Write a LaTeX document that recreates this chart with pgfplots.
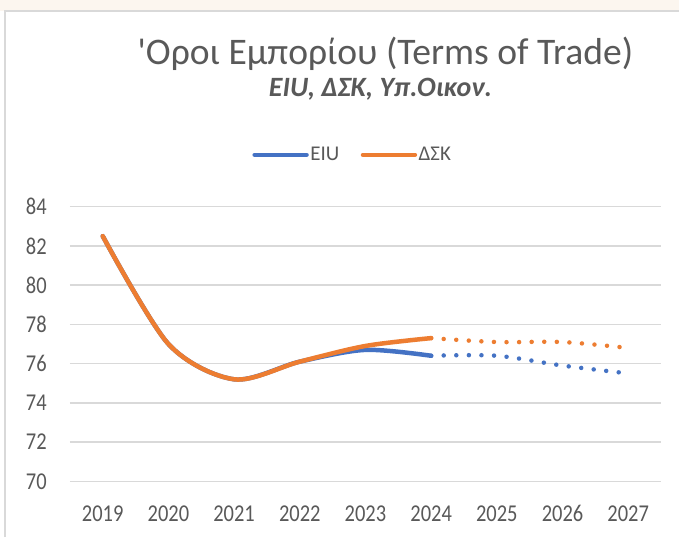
\documentclass[border=0pt]{standalone}
\usepackage{fontspec}
\setmainfont{Carlito}
\newfontfamily\titlefont{Carlito}[Ligatures=TeXOff]
\usepackage{pgfplots}
\pgfplotsset{compat=1.18}
\definecolor{eiu}{HTML}{4472C4}
\definecolor{dsk}{HTML}{ED7D31}
\definecolor{txt}{HTML}{595959}
\definecolor{gridc}{HTML}{D9D9D9}
\definecolor{beige}{HTML}{FCF6EF}
\begin{document}
\begin{tikzpicture}[x=1pt,y=1pt]
\fill[white] (0,0) rectangle (680,538);
\fill[beige] (0,526.5) rectangle (680,538);
\draw[gridc, line width=2pt] (5,0) -- (5,526.5) -- (680,526.5);
\node[anchor=base, text=txt, inner sep=0pt, font=\titlefont\fontsize{37.6}{40}\selectfont] at (386,473) {'Οροι Εμπορίου (Terms of Trade)};
\node[anchor=base, text=txt, inner sep=0pt, font=\fontsize{28}{30}\selectfont\bfseries\itshape] at (381,441) {EIU, ΔΣΚ, Υπ.Οικον.};
\begin{axis}[
  at={(70pt,56pt)}, anchor=south west,
  scale only axis, width=592pt, height=275pt,
  xmin=-0.5, xmax=8.5, ymin=70, ymax=84,
  ytick={70,72,...,84},
  xtick={0,...,8},
  xticklabel={\pgfmathtruncatemacro\yr{2019+\tick}\scalebox{1}[1.18]{\yr}},
  yticklabel={\scalebox{1}[1.18]{\pgfmathprintnumber{\tick}}},
  /pgf/number format/assume math mode=true,
  axis line style={draw=none},
  major tick length=0pt,
  tick style={draw=none},
  ymajorgrids,
  grid style={gridc, line width=1.5pt},
  ticklabel style={text=txt, font=\fontsize{20.5}{22}\selectfont, inner sep=0pt},
  yticklabel style={anchor=east, xshift=-23pt},
  xticklabel style={anchor=north, yshift=-24pt},
  clip=false,
  legend style={draw=none, fill=none, at={(0.478,1.189)}, anchor=center,
    legend columns=-1,
    /tikz/every even column/.append style={column sep=20pt},
    nodes={inner sep=1.5pt, text=txt, font=\fontsize{21}{23}\selectfont}},
  legend image code/.code={\draw[#1, line cap=round] (0pt,0pt) -- (52pt,0pt);},
]
\addplot[eiu, line width=4.5pt, smooth, line cap=round] coordinates {(0,82.5)(1,77.0)(2,75.2)(3,76.1)(4,76.7)(5,76.4)};
\addlegendentry{EIU}
\addplot[dsk, line width=4.5pt, smooth, line cap=round] coordinates {(0,82.5)(1,77.0)(2,75.2)(3,76.1)(4,76.9)(5,77.3)};
\addlegendentry{ΔΣΚ}
\addplot[eiu, line width=4.5pt, smooth, line cap=round, dash pattern=on 0pt off 12.6pt, forget plot] coordinates {(5,76.4)(6,76.4)(7,75.9)(8,75.5)};
\addplot[dsk, line width=4.5pt, smooth, line cap=round, dash pattern=on 0pt off 12.6pt, forget plot] coordinates {(5,77.3)(6,77.1)(7,77.1)(8,76.8)};
\end{axis}
\end{tikzpicture}
\end{document}
